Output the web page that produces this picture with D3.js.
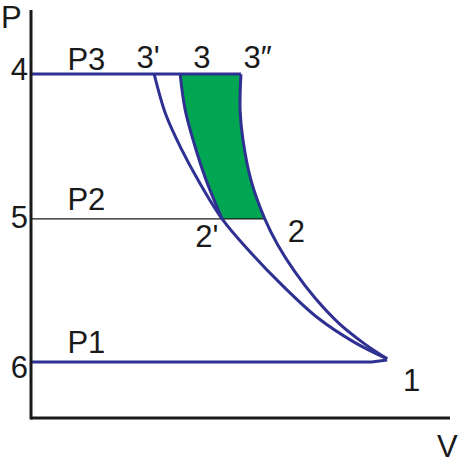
<!DOCTYPE html>
<html>
<head>
<meta charset="utf-8">
<script src="https://cdn.jsdelivr.net/npm/d3@7"></script>
<style>
  body { margin: 0; background: #fff; }
  text { font-family: "Liberation Sans", Arial, sans-serif; fill: #1a1a1a; }
</style>
</head>
<body>
<svg id="chart"></svg>
<script>
// pressure levels (P1..P3), in chart units
const levelNames = ["P1", "P2", "P3"];
const levelValues = [1.37, 4.88, 8.43];
const levelTicks = ["6", "5", "4"];
const levelEnds = [8.13, 5.58, 5.01];

// curve 3' -> 2' -> 1
const curveA = [[2.94, 8.43], [3.22, 7.43], [3.60, 6.57], [3.96, 5.88], [4.56, 4.88],
  [5.23, 4.07], [6.01, 3.24], [6.85, 2.45], [7.71, 1.86], [8.50, 1.45]];
// curve 3 -> 2'
const curveB = [[3.56, 8.43], [3.68, 7.55], [3.94, 6.57], [4.18, 5.83], [4.56, 4.88]];
// curve 3" -> 2
const curveCUpper = [[5.01, 8.43], [4.99, 7.55], [5.06, 6.81], [5.25, 5.83], [5.58, 4.88]];
// curve 2 -> 1
const curveCLower = [[5.58, 4.88], [5.89, 4.24], [6.30, 3.58], [6.78, 2.94], [7.37, 2.30], [7.97, 1.81], [8.50, 1.45]];

// point labels
const pointNames = ["3'", "3", "3\u2033", "2'", "2", "1"];
const pointX = [2.52, 3.87, 5.07, 3.92, 6.13, 8.88];
const pointY = [8.58, 8.58, 8.58, 4.18, 4.31, 0.66];

const width = 459, height = 468;
const blue = "#2e3192", green = "#00a651";
const tickDy = [16, 9, 6], nameDy = [-9, -9, -4];

const svg = d3.select("#chart").attr("width", width).attr("height", height);

const x = d3.scaleLinear().domain([0, 10]).range([31, 450]);
const y = d3.scaleLinear().domain([0, 10]).range([418, 10]);

const line = d3.line()
  .x(d => x(d[0]))
  .y(d => y(d[1]))
  .curve(d3.curveCatmullRom.alpha(0.5));

// green region between 3-2' and 3"-2
const fillD = line(curveB) + line(curveCUpper.slice().reverse()).replace("M", "L") + "Z";
svg.append("path").attr("d", fillD).attr("fill", green);

// pressure lines
levelValues.forEach(function(p, i) {
  const pts = [[0, p], [levelEnds[i], p]];
  if (i === 0) pts.push([8.50, 1.42]);
  svg.append("path")
    .attr("d", d3.line().x(d => x(d[0])).y(d => y(d[1]))(pts))
    .attr("fill", "none")
    .attr("stroke", i === 1 ? "#1a1a1a" : blue)
    .attr("stroke-width", i === 1 ? 1.2 : 3);

  svg.append("text").attr("x", x(0.87)).attr("y", y(p) + nameDy[i])
    .attr("font-size", 31).text(levelNames[i]);
  svg.append("text").attr("x", x(0) - 3).attr("y", y(p) + tickDy[i])
    .attr("text-anchor", "end").attr("font-size", 31).text(levelTicks[i]);
});

// curves
[curveA, curveB, curveCUpper.concat(curveCLower.slice(1))].forEach(function(c) {
  svg.append("path").attr("d", line(c))
    .attr("fill", "none").attr("stroke", blue).attr("stroke-width", 3);
});

// axes
svg.append("line").attr("x1", x(0)).attr("x2", x(0)).attr("y1", 10).attr("y2", y(0) + 1.5)
  .attr("stroke", "#1a1a1a").attr("stroke-width", 3);
svg.append("line").attr("x1", x(0)).attr("x2", x(10)).attr("y1", y(0)).attr("y2", y(0))
  .attr("stroke", "#1a1a1a").attr("stroke-width", 3);
svg.append("text").attr("x", 1).attr("y", 28).attr("font-size", 31).text("P");
svg.append("text").attr("x", 437).attr("y", 457).attr("font-size", 31).text("V");

// point labels
pointNames.forEach(function(n, i) {
  svg.append("text").attr("x", x(pointX[i])).attr("y", y(pointY[i]))
    .attr("font-size", 31).text(n);
});
</script>
</body>
</html>
